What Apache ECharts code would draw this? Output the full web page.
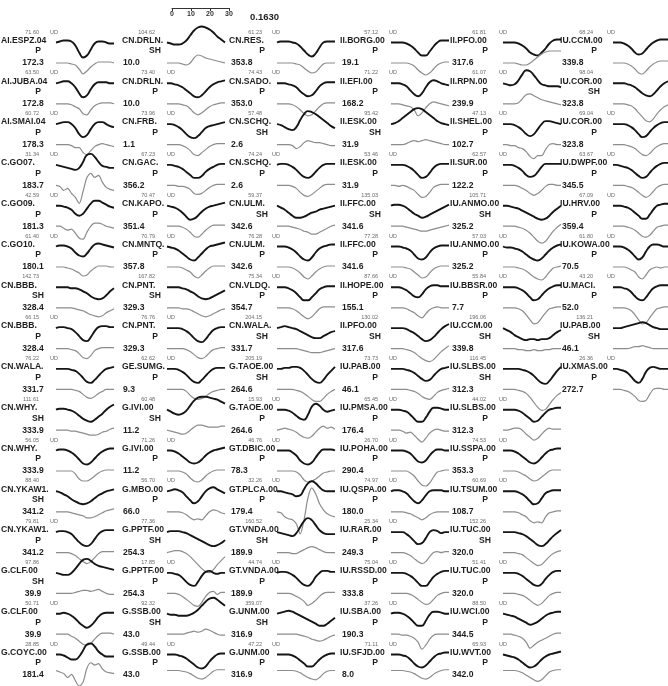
<!DOCTYPE html>
<html>
<head>
<meta charset="utf-8">
<script src="https://cdn.jsdelivr.net/npm/echarts@6/dist/echarts.min.js"></script>
<style>
  html, body { margin: 0; padding: 0; background: #fff; }
  #chart { width: 668px; height: 686px; }
</style>
</head>
<body>
<div id="chart"></div>
<script>
// Sample times (s) shared by every trace
const timeSec = [0, 2, 4, 6, 8, 10, 12, 14, 16, 18, 20, 22, 24, 26, 28, 30];
const scaleTicks = [0, 10, 20, 30];
const misfitText = '0.1630';

// ---- column 1 ----
const stationsA = ['AI.ESPZ.04','AI.JUBA.04','AI.SMAI.04','C.GO07.','C.GO09.','C.GO10.','CN.BBB.','CN.BBB.','CN.WALA.','CN.WHY.','CN.WHY.','CN.YKAW1.','CN.YKAW1.','G.CLF.00','G.CLF.00','G.COYC.00'];
const compsA = ['P','P','P','P','P','P','SH','P','P','SH','P','SH','P','SH','P','P'];
const ampsA = ['71.60','63.50','60.72','31.34','42.59','61.40','142.73','66.15','76.22','111.61','56.05','88.40','79.81','97.86','50.71','28.85'];
const azimsA = ['172.3','172.8','178.3','183.7','181.3','180.1','328.4','328.4','331.7','333.9','333.9','341.2','341.2','39.9','39.9','181.4'];
const obsA = [
  [0,1,2,2,1,-3,-10,-15,-13,-7,-1,1,1,0,-1,-1],
  [0,1,2,2,0,-4,-10,-14,-12,-6,-1,1,1,1,0,0],
  [0,1,2,2,0,-4,-10,-13,-11,-5,0,2,2,0,-2,-3],
  [0,-1,-2,-3,-4,-5,-3,3,10,11,8,3,-1,-2,-3,-3],
  [0,0,-1,-2,-4,-8,-10,-8,-3,2,5,5,3,1,-1,-2],
  [0,1,1,0,-2,-6,-9,-10,-7,-2,2,3,2,1,0,-1],
  [0,0,0,0,-1,-1,-2,-4,-6,-9,-11,-12,-11,-8,-4,-1],
  [0,1,1,0,-1,-4,-8,-12,-13,-9,-3,1,2,2,1,1],
  [0,0,0,0,-1,-2,-5,-9,-13,-14,-11,-7,-3,0,1,2],
  [0,1,1,0,-1,-3,-6,-9,-11,-12,-10,-7,-4,0,3,5],
  [0,1,1,0,-2,-5,-9,-13,-14,-12,-8,-4,-1,1,2,2],
  [0,-1,-3,-5,-8,-10,-12,-13,-12,-10,-7,-4,-2,0,1,2],
  [0,1,1,0,-2,-6,-10,-13,-14,-12,-7,-2,1,2,2,2],
  [0,-1,-2,-2,0,4,9,13,14,12,9,7,6,5,4,3],
  [0,0,1,0,-2,-5,-9,-12,-14,-12,-8,-3,0,1,1,1],
  [0,0,-1,-3,-5,-5,-2,4,10,11,8,3,0,-2,-2,-2]
];
const synA = [
  [0,0,0,0,-1,-2,-6,-11,-8,-4,-1,1,1,1,1,0],
  [0,0,0,0,-1,-3,-5,-10,-11,-6,-2,0,1,1,1,0],
  [0,0,0,0,-1,-3,-3,-8,-10,-6,-2,0,1,0,-1,-2],
  [0,-1,-5,-3,-8,-12,-18,-6,8,12,8,10,3,-2,-4,-5],
  [0,0,-2,-4,-3,-7,-12,-13,-6,0,3,3,2,0,-1,-2],
  [0,0,0,-1,-2,-4,-6,-9,-8,-4,-1,1,1,1,0,0],
  [0,0,0,0,0,-1,-2,-3,-5,-7,-8,-9,-8,-5,-3,-1],
  [0,0,0,0,-1,-2,-5,-9,-10,-7,-2,0,1,1,1,1],
  [0,0,0,0,0,-1,-2,-5,-8,-9,-7,-4,-2,0,0,0],
  [0,0,0,0,-1,-1,-2,-3,-4,-5,-5,-4,-2,-1,1,2],
  [0,0,0,0,0,-3,-8,-10,-10,-8,-5,-2,0,1,1,1],
  [0,0,0,0,-1,-2,-3,-4,-6,-6,-5,-3,-1,1,2,3],
  [0,0,0,0,-1,-3,-6,-9,-11,-9,-5,-1,1,1,1,1],
  [0,0,0,0,0,1,2,3,3,2,3,4,2,0,-1,-1],
  [0,0,0,0,-2,-4,-7,-10,-11,-9,-5,-1,1,1,1,0],
  [0,-2,-4,-9,-5,-13,-20,-15,3,10,7,9,2,-2,-3,-4]
];

// ---- column 2 ----
const stationsB = ['CN.DRLN.','CN.DRLN.','CN.FRB.','CN.GAC.','CN.KAPO.','CN.MNTQ.','CN.PNT.','CN.PNT.','GE.SUMG.','G.IVI.00','G.IVI.00','G.MBO.00','G.PPTF.00','G.PPTF.00','G.SSB.00','G.SSB.00'];
const compsB = ['SH','P','P','P','P','P','SH','P','P','SH','P','P','SH','P','SH','P'];
const ampsB = ['104.62','73.40','73.96','67.23','70.47','70.79','167.82','76.76','62.62','60.48','71.26','56.70','77.36','17.85','92.32','49.44'];
const azimsB = ['10.0','10.0','1.1','356.2','351.4','357.8','329.3','329.3','9.3','11.2','11.2','66.0','254.3','254.3','43.0','43.0'];
const obsB = [
  [0,-1,-2,-2,-1,2,7,12,15,16,15,13,10,6,3,0],
  [0,0,-1,-2,-4,-7,-10,-13,-14,-12,-8,-4,-1,1,2,3],
  [0,0,-1,-3,-6,-10,-13,-14,-12,-8,-4,-2,-1,0,1,2],
  [0,0,-1,-2,-4,-7,-10,-13,-13,-11,-7,-4,-2,0,1,1],
  [0,-1,-2,-4,-7,-11,-14,-13,-10,-6,-3,-1,0,1,2,3],
  [0,-1,-2,-4,-7,-10,-13,-14,-11,-7,-3,0,1,2,3,4],
  [0,0,0,0,-1,-2,-4,-6,-9,-11,-12,-11,-9,-7,-5,-3],
  [0,0,0,0,-1,-3,-6,-10,-13,-14,-11,-6,-2,0,1,1],
  [0,0,0,-1,-3,-6,-10,-13,-14,-11,-7,-3,0,1,1,1],
  [0,-2,-4,-5,-4,-1,4,9,12,13,13,12,11,10,8,6],
  [0,0,-1,-3,-6,-9,-12,-13,-12,-9,-5,-2,0,1,2,3],
  [0,1,2,1,-1,-5,-9,-12,-10,-5,0,3,4,2,0,-2],
  [0,1,1,1,0,-1,-3,-5,-7,-9,-11,-13,-14,-13,-11,-8],
  [0,0,-1,-2,-5,-9,-12,-13,-9,-3,1,2,0,-1,0,0],
  [0,-1,-1,-2,-2,-2,-1,1,4,8,12,15,16,14,11,8],
  [0,0,0,-1,-2,-4,-7,-10,-13,-14,-12,-7,-3,0,1,1]
];
const synB = [
  [0,0,0,0,-1,-2,0,5,8,7,5,4,3,2,1,0],
  [0,0,0,0,-1,-2,-5,-9,-11,-9,-6,-3,-1,0,1,1],
  [0,0,0,0,-1,-3,-6,-10,-11,-8,-5,-2,0,1,1,1],
  [0,0,0,-1,-1,-2,-4,-8,-9,-8,-5,-2,0,1,1,1],
  [0,0,0,0,-1,-3,-6,-10,-11,-8,-4,-1,1,1,1,1],
  [0,0,0,0,-1,-3,-5,-9,-11,-8,-4,-1,1,1,1,1],
  [0,0,0,0,-1,-1,-2,-4,-6,-8,-9,-8,-6,-4,-2,-1],
  [0,0,0,0,0,-1,-3,-6,-9,-10,-8,-4,-1,0,1,1],
  [0,0,0,0,0,-2,-6,-9,-10,-9,-7,-4,-2,-1,0,0],
  [0,-1,-2,-3,-4,-3,0,3,5,5,4,3,3,3,4,4],
  [0,0,0,0,-1,-3,-7,-10,-11,-9,-5,-2,0,1,1,1],
  [0,0,0,0,-1,-3,-6,-8,-7,-8,-4,0,2,1,-1,-2],
  [0,1,2,2,1,-1,-4,-8,-12,-16,-19,-20,-17,-12,-8,-4],
  [0,0,0,-1,-3,-6,-9,-12,-13,-9,-3,1,2,-1,1,1],
  [0,0,0,0,0,1,2,3,2,3,5,4,2,0,-1,-1],
  [0,0,0,0,-1,-2,-4,-7,-10,-11,-9,-5,-1,1,1,1]
];

// ---- column 3 ----
const stationsC = ['CN.RES.','CN.SADO.','CN.SCHQ.','CN.SCHQ.','CN.ULM.','CN.ULM.','CN.VLDQ.','CN.WALA.','G.TAOE.00','G.TAOE.00','GT.DBIC.00','GT.PLCA.00','GT.VNDA.00','GT.VNDA.00','G.UNM.00','G.UNM.00'];
const compsC = ['P','P','SH','P','SH','P','P','SH','SH','P','P','P','SH','P','SH','P'];
const ampsC = ['61.23','74.43','57.48','74.24','59.37','76.28','75.34','204.15','205.19','15.93','46.76','32.26','160.52','44.74','359.07','47.22'];
const azimsC = ['353.8','353.0','2.6','2.6','342.6','342.6','354.7','331.7','264.6','264.6','78.3','179.4','189.9','189.9','316.9','316.9'];
const obsC = [
  [0,1,1,1,0,-1,-4,-8,-12,-14,-11,-5,0,1,1,1],
  [0,0,0,-1,-2,-4,-8,-11,-13,-12,-8,-3,0,1,1,1],
  [0,-1,-3,-5,-6,-3,4,10,13,12,10,7,4,1,-2,-4],
  [0,1,1,0,-2,-5,-9,-12,-13,-11,-7,-3,0,1,1,1],
  [0,-2,-4,-7,-10,-12,-12,-11,-9,-7,-6,-4,-3,-2,-1,0],
  [0,0,0,-1,-3,-6,-10,-13,-14,-11,-6,-2,0,1,2,2],
  [0,0,0,-1,-3,-6,-10,-13,-13,-10,-6,-2,0,1,1,1],
  [0,1,2,1,0,-1,-3,-5,-7,-9,-10,-10,-8,-6,-4,-3],
  [0,0,1,1,2,2,1,-2,-6,-10,-13,-14,-11,-6,-2,2],
  [0,0,0,-1,-3,-6,-9,-10,-5,3,6,4,0,-2,-1,0],
  [0,0,0,0,-2,-5,-10,-13,-14,-12,-7,-2,1,1,1,0],
  [0,0,-1,-2,-3,-5,-4,2,8,10,8,4,1,0,0,0],
  [0,-1,-2,-3,-4,-1,5,11,14,12,7,2,-1,-2,-2,-2],
  [0,1,1,0,-2,-5,-9,-12,-13,-10,-4,0,2,2,1,1],
  [0,1,2,3,2,0,-2,-4,-6,-8,-10,-12,-12,-10,-7,-4],
  [0,0,0,0,-1,-3,-6,-9,-12,-12,-9,-5,-2,0,1,1]
];
const synC = [
  [0,0,0,0,0,-1,-2,-5,-8,-10,-9,-5,-1,0,0,0],
  [0,0,0,0,-1,-3,-6,-10,-12,-11,-7,-3,0,1,1,1],
  [0,0,0,0,-1,-4,-2,2,4,3,2,2,1,0,-1,-1],
  [0,0,0,0,-1,-3,-7,-10,-11,-9,-6,-3,0,1,1,1],
  [0,0,0,0,-1,-2,-3,-5,-6,-8,-8,-6,-4,-2,0,1],
  [0,0,0,0,-1,-3,-6,-10,-12,-9,-5,-2,0,1,1,1],
  [0,0,0,0,-1,-3,-6,-9,-11,-9,-5,-1,1,1,1,1],
  [0,0,0,0,0,0,-1,-2,-3,-4,-4,-4,-3,-2,-1,0],
  [0,0,0,0,0,-1,-2,-4,-7,-10,-12,-12,-9,-5,-2,0],
  [0,1,2,1,0,-2,-5,-7,-8,-6,-2,2,4,2,3,1],
  [0,0,0,0,0,-1,-4,-9,-11,-10,-8,-5,-2,-1,0,0],
  [0,-1,-5,-7,-8,-12,-22,-8,14,24,18,8,2,-2,-4,-5],
  [0,0,0,0,-1,-1,1,3,5,6,5,3,1,0,0,0],
  [0,0,0,0,-1,-3,-5,-8,-12,-10,-7,-3,0,1,1,1],
  [0,0,0,0,0,0,-1,-2,-3,-5,-6,-7,-6,-4,-2,-1],
  [0,0,0,0,0,-1,-3,-6,-9,-11,-12,-9,-4,-1,0,0]
];

// ---- column 4 ----
const stationsD = ['II.BORG.00','II.EFI.00','II.ESK.00','II.ESK.00','II.FFC.00','II.FFC.00','II.HOPE.00','II.PFO.00','IU.PAB.00','IU.PMSA.00','IU.POHA.00','IU.QSPA.00','IU.RAR.00','IU.RSSD.00','IU.SBA.00','IU.SFJD.00'];
const compsD = ['P','P','SH','P','SH','P','P','SH','P','P','P','P','P','P','P','P'];
const ampsD = ['57.12','71.22','95.42','53.46','135.03','77.28','87.66','130.02','73.73','65.45','26.70','74.97','25.34','75.04','37.26','71.11'];
const azimsD = ['19.1','168.2','31.9','31.9','341.6','341.6','155.1','317.6','46.1','176.4','290.4','180.0','249.3','333.8','190.3','8.0'];
const obsD = [
  [0,0,0,0,-1,-3,-6,-10,-13,-13,-9,-4,0,2,2,2],
  [0,0,0,-1,-3,-7,-11,-13,-10,-4,1,3,2,0,-1,-2],
  [0,1,3,6,9,12,15,16,15,12,9,6,3,1,0,-1],
  [0,0,0,0,-1,-3,-6,-10,-13,-12,-8,-3,0,1,1,1],
  [0,1,1,0,-2,-5,-8,-10,-12,-11,-9,-7,-5,-3,-1,1],
  [0,0,0,-1,-2,-4,-8,-12,-13,-11,-6,-2,0,1,1,1],
  [0,0,0,-1,-3,-6,-9,-10,-7,-2,1,2,2,1,1,1],
  [0,0,0,0,-1,-3,-5,-8,-11,-13,-12,-9,-5,-1,2,4],
  [0,0,0,0,-1,-2,-4,-7,-10,-12,-11,-7,-3,0,1,2],
  [0,0,0,-1,-2,-5,-9,-12,-12,-8,-2,2,2,1,0,0],
  [0,0,0,0,-1,-3,-7,-11,-12,-10,-5,-1,1,1,0,0],
  [0,1,1,0,-2,-6,-10,-12,-9,-4,0,1,1,1,0,0],
  [0,0,0,0,-2,-5,-9,-12,-11,-6,0,2,1,-1,0,0],
  [0,0,0,0,-1,-3,-6,-10,-13,-13,-9,-4,-1,1,2,2],
  [0,1,1,0,-2,-5,-9,-12,-12,-7,-1,2,2,1,0,0],
  [0,0,0,-1,-2,-5,-9,-12,-13,-11,-7,-3,0,1,2,2]
];
const synD = [
  [0,0,0,0,0,-1,-3,-7,-10,-12,-10,-6,-2,0,1,1],
  [0,0,0,-1,-2,-3,-6,-12,-9,-4,0,2,1,0,-1,-2],
  [0,0,0,0,1,3,4,3,4,5,4,3,2,1,0,0],
  [0,0,-1,0,-1,-3,-5,-9,-12,-11,-7,-2,0,1,1,1],
  [0,0,0,0,-1,-2,-3,-4,-5,-5,-4,-3,-2,-1,0,1],
  [0,0,0,0,-1,-2,-5,-8,-11,-10,-6,-2,0,1,1,1],
  [0,0,0,0,-1,-3,-5,-8,-10,-6,-2,0,1,0,0,0],
  [0,0,0,0,-1,-2,-4,-7,-10,-12,-13,-11,-7,-3,0,3],
  [0,0,0,0,0,-1,-2,-4,-7,-9,-10,-7,-3,-1,0,1],
  [0,0,0,-1,-3,-2,-5,-9,-12,-8,-3,0,1,0,-1,-1],
  [0,0,0,0,0,-2,-5,-10,-14,-15,-12,-6,-1,0,1,1],
  [0,0,0,0,-1,-2,-4,-6,-8,-6,-3,-1,0,0,0,0],
  [0,0,0,0,-1,-3,-6,-9,-11,-9,-4,0,1,0,1,1],
  [0,0,0,0,0,-1,-3,-6,-9,-11,-10,-6,-2,0,1,1],
  [0,0,0,-1,-1,-2,-4,-8,-15,-11,-5,-1,0,0,0,0],
  [0,0,0,0,-1,-2,-4,-7,-10,-11,-9,-5,-2,0,1,1]
];

// ---- column 5 ----
const stationsE = ['II.PFO.00','II.RPN.00','II.SHEL.00','II.SUR.00','IU.ANMO.00','IU.ANMO.00','IU.BBSR.00','IU.CCM.00','IU.SLBS.00','IU.SLBS.00','IU.SSPA.00','IU.TSUM.00','IU.TUC.00','IU.TUC.00','IU.WCI.00','IU.WVT.00'];
const compsE = ['P','P','P','P','SH','P','P','SH','SH','P','P','P','SH','P','P','P'];
const ampsE = ['61.81','61.07','47.13','62.57','105.71','57.03','55.84','196.06','116.45','44.02','74.53','60.69','152.26','51.41','88.50','65.93'];
const azimsE = ['317.6','239.9','102.7','122.2','325.2','325.2','7.7','339.8','312.3','312.3','353.3','108.7','320.0','320.0','344.5','342.0'];
const obsE = [
  [0,0,0,0,-1,-3,-6,-10,-12,-13,-10,-6,-1,2,3,3],
  [0,-1,-2,-1,3,9,13,12,8,3,-1,-2,-3,-3,-3,-4],
  [0,0,0,-1,-3,-6,-10,-12,-10,-5,0,3,3,2,1,0],
  [0,0,0,-1,-3,-6,-10,-12,-11,-7,-2,1,1,1,1,1],
  [0,0,-1,-2,-3,-5,-7,-9,-11,-13,-14,-13,-10,-6,-3,0],
  [0,-1,-1,-2,-3,-5,-8,-11,-13,-14,-12,-8,-4,-1,1,2],
  [0,0,0,0,-1,-3,-6,-10,-13,-12,-8,-4,-1,1,2,2],
  [0,-2,-4,-7,-9,-11,-12,-11,-11,-12,-11,-11,-10,-7,-4,-2],
  [0,0,0,0,0,-1,-2,-4,-7,-11,-14,-15,-12,-7,-2,2],
  [0,0,0,0,-1,-3,-6,-9,-12,-11,-7,-3,0,1,2,2],
  [0,0,0,-1,-3,-6,-9,-12,-13,-11,-7,-3,0,1,2,2],
  [0,0,0,0,-1,-3,-6,-10,-13,-12,-7,-2,0,1,1,1],
  [0,0,0,0,-1,-2,-4,-7,-10,-13,-14,-12,-8,-4,-1,2],
  [0,0,0,0,-1,-3,-6,-9,-12,-13,-11,-6,-2,1,2,2],
  [0,-1,-2,-3,-5,-7,-9,-11,-10,-8,-5,-2,0,1,2,2],
  [0,-1,-2,-3,-5,-8,-11,-13,-12,-9,-5,-2,0,1,2,3]
];
const synE = [
  [0,0,0,0,-1,-2,-2,0,3,6,9,11,12,12,12,12],
  [0,0,0,0,1,5,9,10,8,6,4,3,2,1,0,-1],
  [0,0,-1,-1,-3,-4,-7,-12,-14,-11,-11,-5,0,1,0,0],
  [0,0,0,0,-1,-3,-5,-8,-10,-8,-5,-1,1,1,0,0],
  [0,0,0,0,-1,-2,-4,-7,-11,-15,-17,-15,-10,-5,-1,2],
  [0,0,0,0,-1,-2,-4,-7,-10,-12,-13,-10,-5,-1,0,1],
  [0,0,0,0,-1,-3,-7,-12,-16,-15,-10,-5,-1,0,1,1],
  [0,0,0,0,-1,-1,-2,-2,-1,-2,-2,-1,-1,0,0,0],
  [0,0,0,0,-1,-2,-4,-8,-13,-18,-21,-20,-15,-10,-6,-3],
  [0,0,1,2,2,0,-4,-7,-10,-8,-4,0,2,1,1,1],
  [0,0,0,0,-1,-3,-5,-8,-10,-9,-6,-3,0,1,1,1],
  [0,0,0,0,-1,-3,-5,-9,-11,-10,-11,-5,-1,0,1,1],
  [0,0,0,0,-1,-2,-5,-8,-11,-13,-12,-8,-4,-1,1,2],
  [0,0,0,0,-1,-2,-4,-7,-10,-12,-10,-6,-2,0,1,1],
  [0,0,0,-1,-2,-4,-8,-14,-11,-8,-6,-4,-2,0,1,1],
  [0,0,0,0,-1,-3,-6,-9,-12,-14,-12,-7,-2,0,1,1]
];

// ---- column 6 ----
const stationsF = ['IU.CCM.00','IU.COR.00','IU.COR.00','IU.DWPF.00','IU.HRV.00','IU.KOWA.00','IU.MACI.','IU.PAB.00','IU.XMAS.00'];
const compsF = ['P','SH','P','P','P','P','P','SH','P'];
const ampsF = ['68.24','98.04','69.04','63.67','67.09','61.80','43.20','136.21','26.36'];
const azimsF = ['339.8','323.8','323.8','345.5','359.4','70.5','52.0','46.1','272.7'];
const obsF = [
  [0,0,0,-1,-3,-6,-10,-12,-11,-7,-3,0,2,3,3,3],
  [0,0,0,0,-1,-2,-4,-7,-10,-12,-13,-11,-7,-3,0,2],
  [0,0,0,0,-1,-3,-6,-10,-13,-12,-8,-4,-1,1,2,2],
  [0,0,-1,-2,-3,-5,-8,-11,-13,-12,-8,-4,-1,1,2,2],
  [0,0,0,-1,-2,-4,-7,-10,-13,-13,-9,-4,0,1,2,2],
  [0,0,0,-1,-3,-6,-10,-13,-11,-5,0,2,2,1,0,0],
  [0,0,0,-1,-2,-5,-9,-12,-13,-10,-5,-1,1,2,2,2],
  [0,0,0,1,2,3,4,5,6,5,3,1,0,-1,-1,-1],
  [0,0,-1,-2,-4,-8,-12,-14,-10,-3,1,2,1,0,0,0]
];
const synF = [
  [0,0,0,0,-1,-3,-6,-10,-11,-8,-4,-1,1,2,2,2],
  [0,0,0,0,-1,-2,-5,-9,-13,-17,-18,-15,-10,-6,-3,-1],
  [0,0,0,0,-1,-2,-4,-7,-10,-11,-9,-5,-2,0,1,1],
  [0,0,0,0,-1,-2,-4,-7,-10,-12,-10,-6,-2,0,1,1],
  [0,0,0,0,-1,-2,-4,-7,-10,-11,-9,-5,-1,0,1,1],
  [0,0,0,0,-1,-3,-5,-10,-12,-8,-3,-1,0,-1,0,0],
  [0,0,0,0,-1,-3,-7,-12,-16,-15,-10,-5,-1,0,1,1],
  [0,0,0,0,0,1,2,2,3,2,1,0,0,0,0,0],
  [0,0,0,-1,-2,-4,-7,-11,-12,-11,-5,0,1,1,0,0]
];

// Column layout: text anchors and trace origin, in pixels
const columns = [
  { st: stationsA, cp: compsA, am: ampsA, az: azimsA, ob: obsA, sy: synA, nameX: 1,   ampX: 39,  udX: 50,  compX: 38,  azX: 33,  azAlign: 'center', traceX: 56 },
  { st: stationsB, cp: compsB, am: ampsB, az: azimsB, ob: obsB, sy: synB, nameX: 122, ampX: 155, udX: 167, compX: 155, azX: 123, azAlign: 'left', traceX: 167 },
  { st: stationsC, cp: compsC, am: ampsC, az: azimsC, ob: obsC, sy: synC, nameX: 229, ampX: 262, udX: 272, compX: 262, azX: 231, azAlign: 'left', traceX: 277 },
  { st: stationsD, cp: compsD, am: ampsD, az: azimsD, ob: obsD, sy: synD, nameX: 340, ampX: 378, udX: 389, compX: 375, azX: 342, azAlign: 'left', traceX: 391 },
  { st: stationsE, cp: compsE, am: ampsE, az: azimsE, ob: obsE, sy: synE, nameX: 450, ampX: 486, udX: 499, compX: 485, azX: 452, azAlign: 'left', traceX: 503 },
  { st: stationsF, cp: compsF, am: ampsF, az: azimsF, ob: obsF, sy: synF, nameX: 560, ampX: 593, udX: 607, compX: 594, azX: 562, azAlign: 'left', traceX: 613 }
];

const ROW0 = 32, ROW_STEP = 40.8, TRACE_W = 58, HALF = 20;
const FONT = '"Liberation Sans", Arial, Helvetica, sans-serif';
const grids = [], xAxes = [], yAxes = [], series = [], graphics = [];

function addText(x, y, text, size, bold, color, align) {
  graphics.push({
    type: 'text', x: x, y: y, silent: true,
    style: {
      text: text, fill: color,
      font: (bold ? 'bold ' : '') + size + 'px ' + FONT,
      textAlign: align, textVerticalAlign: 'middle',
      align: align, verticalAlign: 'middle'
    }
  });
}

function addTrace(left, baseY, values, color, width, smooth) {
  const gi = grids.length;
  grids.push({ left: left, top: baseY - HALF, width: TRACE_W, height: HALF * 2, containLabel: false });
  xAxes.push({ gridIndex: gi, type: 'value', min: 0, max: 30, show: false });
  yAxes.push({ gridIndex: gi, type: 'value', min: -HALF, max: HALF, show: false });
  series.push({
    type: 'line', xAxisIndex: gi, yAxisIndex: gi, clip: false,
    data: timeSec.map((t, i) => [t, values[i]]),
    showSymbol: false, symbol: 'none', smooth: smooth, silent: true, animation: false,
    lineStyle: { color: color, width: width }
  });
}

columns.forEach(col => {
  col.st.forEach((name, r) => {
    const y = ROW0 + r * ROW_STEP;
    addText(col.ampX, y, col.am[r], 5.5, false, '#6a6a6a', 'right');
    if (col.cp[r] === 'P') addText(col.udX, y, 'UD', 5.5, false, '#6a6a6a', 'left');
    addText(col.nameX, y + 8.5, name, 8.6, true, '#1e1e1e', 'left');
    addText(col.compX, y + 19, col.cp[r], 8.6, true, '#1e1e1e', 'center');
    addText(col.azX, y + 31, col.az[r], 8.6, true, '#1e1e1e', col.azAlign);
    addTrace(col.traceX, y + 10.5, col.ob[r], '#151515', 1.9, 0.5);
    addTrace(col.traceX, y + 31, col.sy[r], '#8c8c8c', 1.2, 0.3);
  });
});

// Time scale bar (seconds)
const sgi = grids.length;
grids.push({ left: 172, top: 8, width: 57, height: 0 });
xAxes.push({
  gridIndex: sgi, type: 'value', min: 0, max: 30, interval: 10, position: 'bottom',
  axisLine: { show: true, lineStyle: { color: '#333', width: 1 } },
  axisTick: { show: true, length: 3, lineStyle: { color: '#333' } },
  axisLabel: { show: true, fontSize: 7, fontWeight: 'bold', color: '#333', margin: 3, fontFamily: FONT,
               customValues: scaleTicks },
  splitLine: { show: false }
});
yAxes.push({ gridIndex: sgi, type: 'value', show: false });
addText(250, 17, misfitText, 9.5, true, '#222', 'left');

const chart = echarts.init(document.getElementById('chart'), null, { renderer: 'canvas' });
chart.setOption({
  animation: false,
  backgroundColor: '#fff',
  grid: grids, xAxis: xAxes, yAxis: yAxes, series: series,
  graphic: { elements: graphics }
});
</script>
</body>
</html>
